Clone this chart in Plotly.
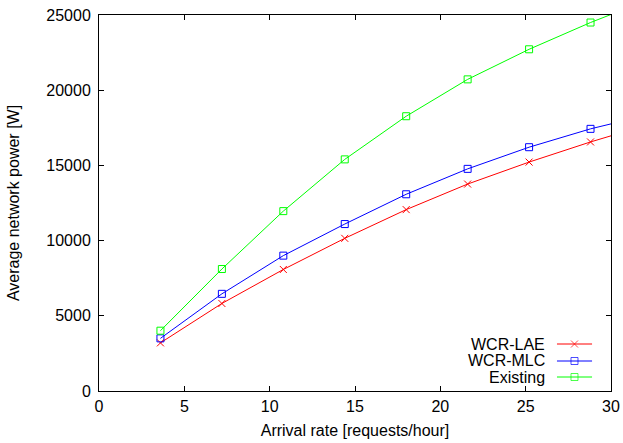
import plotly.graph_objects as go

arrival_rate = [3.6, 7.2, 10.8, 14.4, 18.0, 21.6, 25.2, 28.8, 32.4]
wcr_lae = [3200, 5820, 8080, 10150, 12060, 13760, 15220, 16560, 17780]
wcr_mlc = [3500, 6460, 9000, 11100, 13080, 14770, 16210, 17430, 18420]
existing = [4010, 8110, 11960, 15400, 18270, 20720, 22720, 24500, 26100]

series_names = ["WCR-LAE", "WCR-MLC", "Existing"]
series_colors = ["#ff0000", "#0000ff", "#00ff00"]
series_symbols = ["x-thin-open", "square-open", "square-open"]
series_values = [wcr_lae, wcr_mlc, existing]

x_ticks = [0, 5, 10, 15, 20, 25, 30]
y_ticks = [0, 5000, 10000, 15000, 20000, 25000]
y_tick_labels = ["0", "5000", "10000", "15000", "20000", "25000"]

FONT = "Liberation Sans, Arial, sans-serif"
FS = 16

fig = go.Figure()
for name, col, sym, vals in zip(series_names, series_colors, series_symbols, series_values):
    fig.add_trace(go.Scatter(
        x=arrival_rate, y=vals, mode="lines+markers", name=name,
        line=dict(color=col, width=1),
        marker=dict(symbol=sym, size=7, color=col, line=dict(color=col, width=1)),
        showlegend=False,
    ))

# manual legend (gnuplot style: text then sample to the right)
leg_y = [0.125, 0.0798, 0.0372]
for name, col, sym, ly in zip(series_names, series_colors, series_symbols, leg_y):
    fig.add_trace(go.Scatter(
        x=[0.8945, 0.9287, 0.963], y=[ly, ly, ly], xaxis="x2", yaxis="y2",
        mode="lines+markers", line=dict(color=col, width=1),
        marker=dict(symbol=sym, size=[0, 7, 0], color=col, line=dict(color=col, width=1)),
        showlegend=False, hoverinfo="skip", cliponaxis=False,
    ))
    fig.add_annotation(x=0.875, y=ly, xref="paper", yref="paper", text=name,
                       showarrow=False, xanchor="right", yanchor="middle",
                       font=dict(family=FONT, size=FS, color="black"))

axis_common = dict(
    showgrid=False, zeroline=False, showline=True, linecolor="black", linewidth=1,
    mirror="ticks", ticks="inside", ticklen=5, tickcolor="black", tickwidth=1,
    tickfont=dict(family=FONT, size=FS, color="black"), automargin=False,
)

fig.update_layout(
    width=623, height=443,
    margin=dict(l=99, r=12, t=15, b=52),
    paper_bgcolor="white", plot_bgcolor="white",
    font=dict(family=FONT, size=FS, color="black"),
    xaxis=dict(range=[0, 30], tickvals=x_ticks, ticklabelstandoff=1,
               title=dict(text="Arrival rate [requests/hour]", font=dict(family=FONT, size=FS), standoff=10),
               **axis_common),
    yaxis=dict(range=[0, 25000], tickvals=y_ticks, ticktext=y_tick_labels, ticklabelstandoff=4,
               title=dict(text="Average network power [W]", font=dict(family=FONT, size=FS), standoff=22),
               **axis_common),
    xaxis2=dict(range=[0, 1], overlaying="x", visible=False, fixedrange=True),
    yaxis2=dict(range=[0, 1], overlaying="y", visible=False, fixedrange=True),
)

# remove the default 8px page margin so the figure fills the window exactly
fig.write_html("out.html", config={"displayModeBar": False},
               post_script="document.body.style.margin='0';document.body.style.overflow='hidden';")
